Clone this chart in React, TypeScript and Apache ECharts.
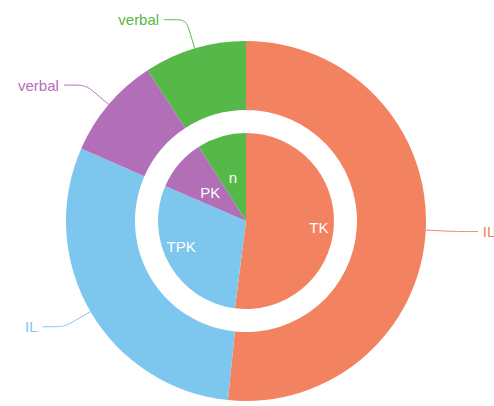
import React, { useEffect, useRef } from "react";
import * as echarts from "echarts";

const innerNames = ["TK", "TPK", "PK", "n"];
const innerValues = [52, 29.5, 9.5, 9];
const outerNames = ["IL", "IL", "verbal", "verbal"];
const outerValues = [51.6, 30, 9.2, 9.2];
const colors = ["#F28260", "#7DC7EF", "#B36EB8", "#56B848"];
const innerLabelShift = [
  [26, 4],
  [-24, 2],
  [0, 2],
  [0, 2],
];

export default function App() {
  const ref = useRef<HTMLDivElement>(null);
  useEffect(() => {
    if (!ref.current) return;
    const chart = echarts.init(ref.current, undefined, { renderer: "svg" });
    chart.setOption({
      animation: false,
      series: [
        {
          type: "pie",
          center: [246, 221],
          radius: [0, 88],
          startAngle: 90,
          label: {
            position: "inside",
            color: "#fff",
            fontSize: 15,
            fontFamily: "Liberation Sans, Arial, sans-serif",
          },
          labelLayout: (p: any) => ({
            dx: innerLabelShift[p.dataIndex][0],
            dy: innerLabelShift[p.dataIndex][1],
          }),
          labelLine: { show: false },
          emphasis: { disabled: true },
          data: innerNames.map((n, i) => ({
            name: n,
            value: innerValues[i],
            itemStyle: { color: colors[i] },
          })),
        },
        {
          type: "pie",
          center: [246, 221],
          radius: [111, 180],
          startAngle: 90,
          avoidLabelOverlap: false,
          label: {
            position: "outside",
            fontSize: 15,
            fontFamily: "Liberation Sans, Arial, sans-serif",
          },
          labelLine: { show: true, length: 30, length2: 22, smooth: 0.2, lineStyle: { width: 1 } },
          emphasis: { disabled: true },
          data: outerNames.map((n, i) => ({
            name: n,
            value: outerValues[i],
            itemStyle: { color: colors[i] },
            label: { color: colors[i] },
            labelLine: { lineStyle: { color: colors[i] } },
          })),
        },
      ],
    });
    return () => chart.dispose();
  }, []);
  return (
    <div
      ref={ref}
      style={{ position: "fixed", left: 0, top: 0, width: 494, height: 406, background: "#fff" }}
    />
  );
}
